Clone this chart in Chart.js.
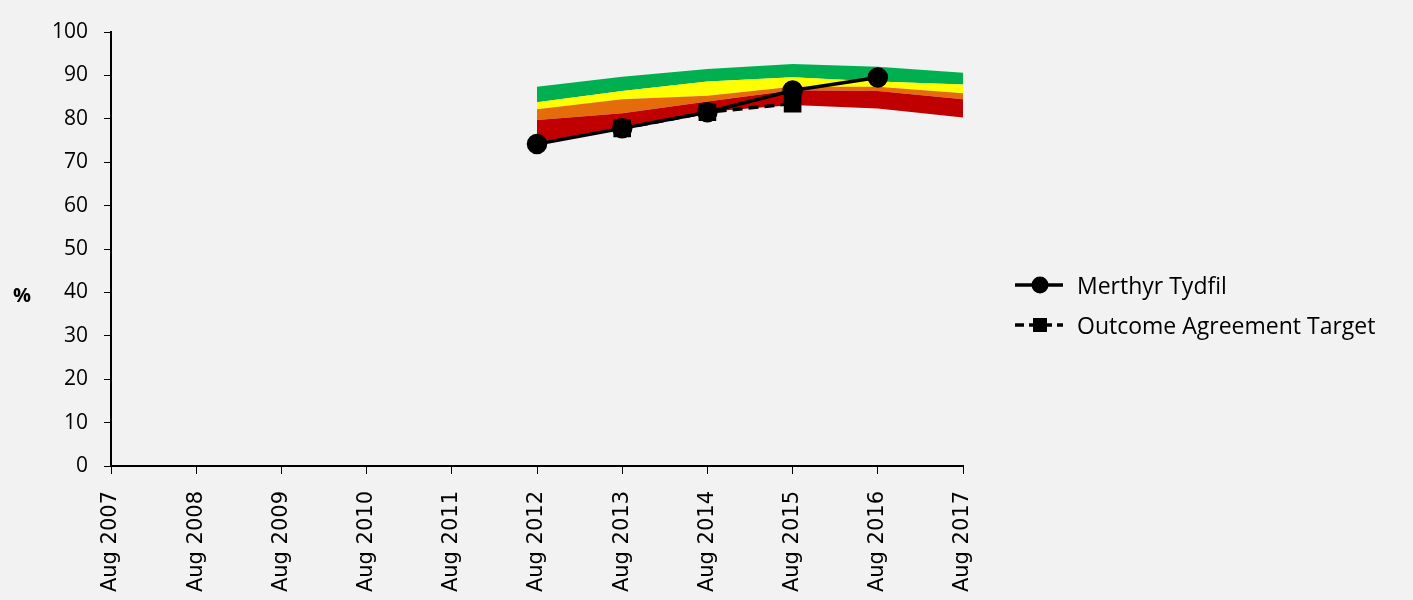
<!DOCTYPE html>
<html>
<head>
<meta charset="utf-8">
<script src="https://cdn.jsdelivr.net/npm/chart.js@4/dist/chart.umd.min.js"></script>
<style>
  html, body { margin: 0; padding: 0; background: #f2f2f2; }
  #wrap { position: relative; width: 1413px; height: 600px; }
  #c { position: absolute; left: 0; top: 0; }
  .ytitle { position: absolute; left: 13px; top: 281px; font: bold 20px "Open Sans", sans-serif; color: #000; }
  .legend { position: absolute; left: 1013px; top: 265px; font: 23px "Open Sans", sans-serif; color: #000; }
  .legend .row { display: flex; align-items: center; height: 40px; }
  .legend svg { margin-right: 12px; }
</style>
</head>
<body>
<div id="wrap">
  <canvas id="c" width="1413" height="600"></canvas>
  <div class="ytitle">%</div>
  <div class="legend">
    <div class="row">
      <svg width="52" height="24"><line x1="2" y1="12" x2="50" y2="12" stroke="#000" stroke-width="3.5"/><circle cx="27" cy="12" r="8.5" fill="#000"/></svg>
      <span>Merthyr Tydfil</span>
    </div>
    <div class="row">
      <svg width="52" height="24"><line x1="2" y1="12" x2="50" y2="12" stroke="#000" stroke-width="3.5" stroke-dasharray="9,5"/><rect x="20" y="5" width="14" height="14" fill="#000"/></svg>
      <span>Outcome Agreement Target</span>
    </div>
  </div>
</div>
<script>
const categories = ['Aug 2007','Aug 2008','Aug 2009','Aug 2010','Aug 2011','Aug 2012','Aug 2013','Aug 2014','Aug 2015','Aug 2016','Aug 2017'];
const merthyrTydfil = [null,null,null,null,null,74.2,77.8,81.5,86.5,89.5,null];
const outcomeTarget = [null,null,null,null,null,null,77.8,81.5,83.5,null,null];
const bandBase   = [null,null,null,null,null,74.6,77.8,81.6,83.2,82.4,80.3];
const redTop     = [null,null,null,null,null,79.7,81.3,84.0,86.6,86.4,84.5];
const orangeTop  = [null,null,null,null,null,82.2,84.5,85.3,87.4,87.4,85.9];
const yellowTop  = [null,null,null,null,null,83.8,86.4,88.6,89.6,88.6,87.9];
const greenTop   = [null,null,null,null,null,87.4,89.7,91.5,92.6,92.0,90.6];
const yTicks = [0,10,20,30,40,50,60,70,80,90,100];

const band = (data, color, target) => ({
  data, backgroundColor: color, borderColor: 'rgba(0,0,0,0)', borderWidth: 0,
  pointRadius: 0, fill: target === null ? false : target, tension: 0
});

new Chart(document.getElementById('c'), {
  type: 'line',
  data: {
    labels: categories,
    datasets: [
      { label: 'Merthyr Tydfil', data: merthyrTydfil, borderColor: '#000', backgroundColor: '#000',
        borderWidth: 3.5, pointStyle: 'circle', pointRadius: 8.5, fill: false, tension: 0 },
      { label: 'Outcome Agreement Target', data: outcomeTarget, borderColor: '#000', backgroundColor: '#000',
        borderWidth: 3.5, borderDash: [10,6], pointStyle: 'rect', pointRadius: 10, fill: false, tension: 0 },
      band(bandBase, 'rgba(0,0,0,0)', null),
      band(redTop, '#c00000', 2),
      band(orangeTop, '#e46c0a', 3),
      band(yellowTop, '#ffff00', 4),
      band(greenTop, '#00b050', 5)
    ]
  },
  options: {
    responsive: false,
    animation: false,
    devicePixelRatio: 1,
    layout: { padding: { left: 0, right: 450, top: 32, bottom: 0 } },
    plugins: { legend: { display: false }, tooltip: { enabled: false } },
    scales: {
      x: {
        offset: false,
        grid: { drawOnChartArea: false, tickLength: 8, color: '#000', lineWidth: 1 },
        border: { color: '#000', width: 2 },
        ticks: { color: '#000', font: { family: 'DejaVu Sans', size: 21 }, minRotation: 90, maxRotation: 90, padding: 17, autoSkip: false },
        afterFit: s => { s.height = 134; }
      },
      y: {
        min: 0, max: 100,
        afterBuildTicks: s => { s.ticks = yTicks.map(v => ({ value: v })); },
        grid: { drawOnChartArea: false, tickLength: 7, color: '#000', lineWidth: 1 },
        border: { color: '#000', width: 2 },
        ticks: { color: '#000', font: { family: 'Open Sans', size: 21 }, padding: 16 },
        afterFit: s => { s.width = 111; }
      }
    }
  }
});
</script>
</body>
</html>
